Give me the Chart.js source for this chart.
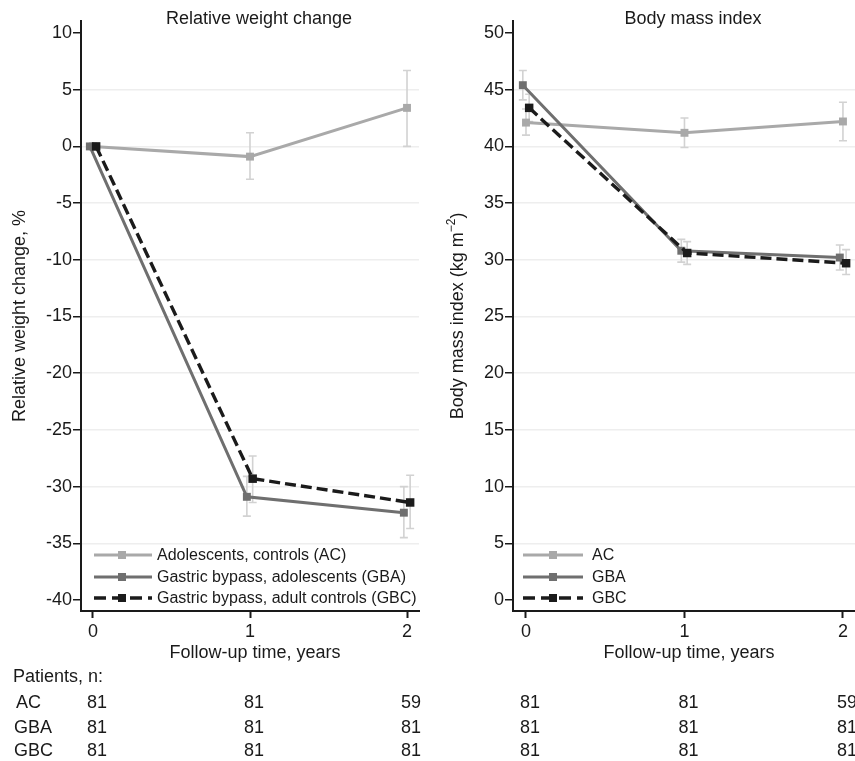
<!DOCTYPE html>
<html>
<head>
<meta charset="utf-8">
<script src="https://cdn.jsdelivr.net/npm/chart.js@4.4.1/dist/chart.umd.min.js"></script>
<style>
    html, body {margin: 0; padding: 0; background: #fff; overflow: hidden}
    #wrap {position: relative; width: 855px; height: 761px; overflow: hidden}
    canvas {position: absolute; top: 0}
</style>
</head>
<body>
<div id="wrap">
    <canvas id="rel" width="430" height="761" style="left:0"></canvas>
    <canvas id="bmi" width="440" height="761" style="left:430px"></canvas>
</div>
<script>
// follow-up years (small jitter per group, as in the figure)
const xAC = [0, 1, 2]
const xGBA = [-0.02, 0.98, 1.98]
const xGBC = [0.02, 1.017, 2.02]
const xTicks = [0, 1, 2]

const groupNames = ["Adolescents, controls (AC)", "Gastric bypass, adolescents (GBA)", "Gastric bypass, adult controls (GBC)"]
const groupCodes = ["AC", "GBA", "GBC"]

// relative weight change, %
const relAC = [0, -0.9, 3.4]
const relACLow = [0, -2.9, 0.0]
const relACHigh = [0, 1.2, 6.7]
const relGBA = [0, -30.9, -32.3]
const relGBALow = [0, -32.6, -34.5]
const relGBAHigh = [0, -29.1, -30.0]
const relGBC = [0, -29.3, -31.4]
const relGBCLow = [0, -31.4, -33.7]
const relGBCHigh = [0, -27.3, -29.0]
const relTicks = [-40, -35, -30, -25, -20, -15, -10, -5, 0, 5, 10]

// body mass index, kg m-2
const bmiAC = [42.1, 41.2, 42.2]
const bmiACLow = [41.0, 39.9, 40.5]
const bmiACHigh = [43.3, 42.5, 43.9]
const bmiGBA = [45.4, 30.8, 30.2]
const bmiGBALow = [44.1, 29.8, 29.1]
const bmiGBAHigh = [46.7, 31.8, 31.3]
const bmiGBC = [43.4, 30.6, 29.7]
const bmiGBCLow = [42.2, 29.6, 28.7]
const bmiGBCHigh = [44.6, 31.6, 30.9]
const bmiTicks = [0, 5, 10, 15, 20, 25, 30, 35, 40, 45, 50]

// patients, n
const patientsAC = [81, 81, 59]
const patientsGBA = [81, 81, 81]
const patientsGBC = [81, 81, 81]

const FONT = "'Liberation Sans', Arial, Helvetica, sans-serif"
const INK = "#1a1a1a"
const colors = ["#a9a9a9", "#6f6f6f", "#1b1b1b"]

Chart.defaults.font.family = FONT
Chart.defaults.font.size = 18
Chart.defaults.color = INK

const series = (xs, ys, lo, hi) => xs.map((x, i) => ({x, y: ys[i], lo: lo[i], hi: hi[i]}))

const errorBars = {
    id: "errorBars",
    beforeDatasetsDraw(chart, args, opts) {
        const {ctx, scales: {x, y}} = chart
        ctx.save()
        ctx.strokeStyle = opts.color
        ctx.lineWidth = opts.width
        for (let ds of chart.data.datasets) {
            for (let p of ds.data) {
                if (p.lo === p.hi) continue
                const px = x.getPixelForValue(p.x)
                const top = y.getPixelForValue(p.hi)
                const bot = y.getPixelForValue(p.lo)
                ctx.beginPath()
                ctx.moveTo(px, top); ctx.lineTo(px, bot)
                ctx.moveTo(px - opts.cap, top); ctx.lineTo(px + opts.cap, top)
                ctx.moveTo(px - opts.cap, bot); ctx.lineTo(px + opts.cap, bot)
                ctx.stroke()
            }
        }
        ctx.restore()
    }
}

const inlineLegend = {
    id: "inlineLegend",
    afterDatasetsDraw(chart, args, opts) {
        const {ctx, chartArea: a} = chart
        const dsets = chart.data.datasets
        ctx.save()
        opts.labels.forEach((label, i) => {
            const ds = dsets[i]
            const y = a.bottom + opts.rows[i]
            ctx.strokeStyle = ds.borderColor
            ctx.lineWidth = ds.borderWidth
            ctx.setLineDash(ds.borderDash ? [12, 6] : [])
            ctx.beginPath()
            ctx.moveTo(a.left + opts.x0, y)
            ctx.lineTo(a.left + opts.x1, y)
            ctx.stroke()
            ctx.setLineDash([])
            ctx.fillStyle = ds.borderColor
            const m = a.left + opts.marker
            ctx.fillRect(m - 4, y - 4, 8, 8)
            ctx.fillStyle = INK
            ctx.font = `16px ${FONT}`
            ctx.textBaseline = "middle"
            ctx.textAlign = "left"
            ctx.fillText(label, a.left + opts.text, y + 1)
        })
        ctx.restore()
    }
}

const panelText = {
    id: "panelText",
    afterDraw(chart, args, opts) {
        const {ctx, chartArea: a, scales: {x}} = chart
        const mid = (a.left + a.right) / 2
        ctx.save()
        ctx.fillStyle = INK
        ctx.font = `18px ${FONT}`
        ctx.textBaseline = "alphabetic"
        ctx.textAlign = "center"
        ctx.fillText(opts.title, mid + 9, 24)
        ctx.fillText(opts.xTitle, mid + 5, 658)

        // y title, rotated, with optional superscript
        ctx.save()
        ctx.translate(opts.yTitleX, (a.top + a.bottom) / 2)
        ctx.rotate(-Math.PI / 2)
        ctx.textBaseline = "middle"
        const parts = opts.yTitle
        ctx.font = `18px ${FONT}`
        let w = ctx.measureText(parts[0]).width + ctx.measureText(parts[2] || "").width
        ctx.font = `12px ${FONT}`
        w += parts[1] ? ctx.measureText(parts[1]).width : 0
        let tx = -w / 2
        ctx.textAlign = "left"
        ctx.font = `18px ${FONT}`
        ctx.fillText(parts[0], tx, 0)
        tx += ctx.measureText(parts[0]).width
        if (parts[1]) {
            ctx.font = `12px ${FONT}`
            ctx.fillText(parts[1], tx, -6)
            tx += ctx.measureText(parts[1]).width
            ctx.font = `18px ${FONT}`
            ctx.fillText(parts[2], tx, 0)
        }
        ctx.restore()

        // patients table
        ctx.textAlign = "left"
        if (opts.rowLabels) {
            ctx.fillText("Patients, n:", 13, 682)
            ctx.fillText(groupCodes[0], 16, 708)
            ctx.fillText(groupCodes[1], 14, 733)
            ctx.fillText(groupCodes[2], 14, 756)
        }
        ctx.textAlign = "center"
        const rowsY = [708, 733, 756]
        ;[patientsAC, patientsGBA, patientsGBC].forEach((row, r) => {
            row.forEach((n, i) => {
                ctx.fillText(String(n), x.getPixelForValue(xTicks[i]) + 4, rowsY[r])
            })
        })
        ctx.restore()
    }
}

function makePanel(id, cfg) {
    const datasets = cfg.series.map((s, i) => ({
        label: groupCodes[i],
        data: s,
        borderColor: colors[i],
        backgroundColor: colors[i],
        borderWidth: i === 2 ? 3.4 : 3,
        borderDash: i === 2 ? [11, 5] : undefined,
        pointStyle: "rect",
        pointRadius: i === 2 ? 6 : 5.6,
        pointBorderWidth: 0,
        pointBackgroundColor: colors[i],
        tension: 0,
        order: 3 - i,
        clip: false
    }))

    return new Chart(document.getElementById(id), {
        type: "line",
        data: {datasets},
        options: {
            responsive: false,
            animation: false,
            events: [],
            layout: {padding: {top: 21, right: cfg.padRight, bottom: 0, left: 0}},
            scales: {
                x: {
                    type: "linear",
                    min: cfg.xMin,
                    max: cfg.xMax,
                    afterBuildTicks: s => { s.ticks = xTicks.map(v => ({value: v})) },
                    afterFit: s => { s.height = 150 },
                    ticks: {padding: 3, color: INK, font: {size: 18}, maxRotation: 0},
                    grid: {drawOnChartArea: false, tickColor: INK, tickLength: 7, tickWidth: 2},
                    border: {color: INK, width: 2}
                },
                y: {
                    type: "linear",
                    min: cfg.yMin,
                    max: cfg.yMax,
                    afterBuildTicks: s => { s.ticks = cfg.yTicks.map(v => ({value: v})) },
                    afterFit: s => { s.width = cfg.yWidth },
                    ticks: {padding: 1, color: INK, font: {size: 18}},
                    grid: {
                        color: c => (c.index === 0 || c.index === cfg.yTicks.length - 1) ? "rgba(0,0,0,0)" : "#eeeeee",
                        lineWidth: 1.5,
                        tickColor: INK,
                        tickLength: 8,
                        tickWidth: 1.5
                    },
                    border: {color: INK, width: 2}
                }
            },
            plugins: {
                legend: {display: false},
                tooltip: {enabled: false},
                errorBars: {color: "#d2d2d2", width: 1.6, cap: 4},
                inlineLegend: cfg.legend,
                panelText: cfg.text
            }
        },
        plugins: [errorBars, inlineLegend, panelText]
    })
}

makePanel("rel", {
    series: [
        series(xAC, relAC, relACLow, relACHigh),
        series(xGBA, relGBA, relGBALow, relGBAHigh),
        series(xGBC, relGBC, relGBCLow, relGBCHigh)
    ],
    xMin: -0.0764, xMax: 2.0764,
    yMin: -40.97, yMax: 11.06,
    yTicks: relTicks,
    yWidth: 81,
    padRight: 11,
    legend: {labels: groupNames, rows: [-56, -34, -13], x0: 13, x1: 71, marker: 41, text: 76},
    text: {
        title: "Relative weight change",
        xTitle: "Follow-up time, years",
        yTitle: ["Relative weight change, %"],
        yTitleX: 20.5,
        rowLabels: true
    }
})

makePanel("bmi", {
    series: [
        series(xAC, bmiAC, bmiACLow, bmiACHigh),
        series(xGBA, bmiGBA, bmiGBALow, bmiGBAHigh),
        series(xGBC, bmiGBC, bmiGBCLow, bmiGBCHigh)
    ],
    xMin: -0.082, xMax: 2.076,
    yMin: -0.97, yMax: 51.06,
    yTicks: bmiTicks,
    yWidth: 83,
    padRight: 15,
    legend: {labels: groupCodes, rows: [-56, -34, -13], x0: 10, x1: 70, marker: 40, text: 79},
    text: {
        title: "Body mass index",
        xTitle: "Follow-up time, years",
        yTitle: ["Body mass index (kg m", "\u22122", ")"],
        yTitleX: 28,
        rowLabels: false
    }
})
</script>
</body>
</html>
